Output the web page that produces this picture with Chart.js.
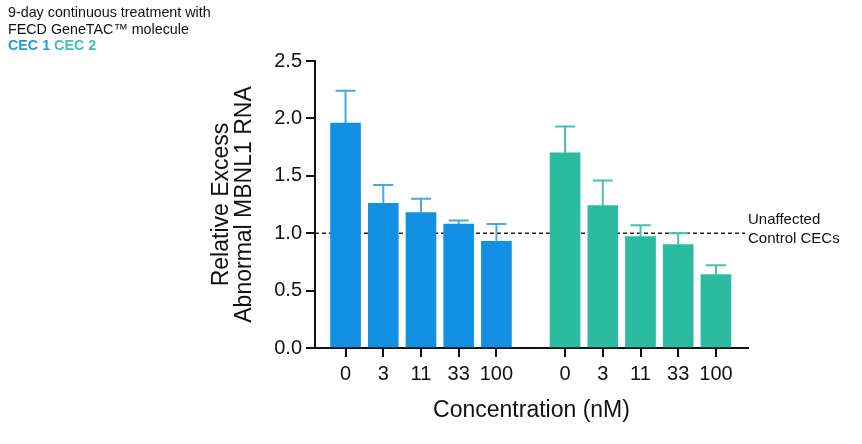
<!DOCTYPE html>
<html><head><meta charset="utf-8">
<script src="https://cdn.jsdelivr.net/npm/chart.js@4.4.0/dist/chart.umd.min.js"></script>
<style>
html,body{margin:0;padding:0;background:#fff;}
#wrap{position:relative;width:862px;height:444px;}
#note{position:absolute;left:8px;top:4px;font-family:"Liberation Sans",Arial,sans-serif;font-size:14.3px;line-height:16.5px;color:#111;}
</style></head><body>
<div id="wrap"><canvas id="c" width="862" height="444"></canvas>
<div id="note">9-day continuous treatment with<br>FECD GeneTAC™ molecule<br><b style="color:#1E9BE3">CEC 1</b> <b style="color:#3CC4AA">CEC 2</b></div></div>
<script>
// ---- data ----
const concentrations = ['0', '3', '11', '33', '100'];
const cec1Values = [1.96, 1.26, 1.18, 1.08, 0.93];
const cec1ErrUpper = [0.28, 0.16, 0.12, 0.03, 0.15];
const cec2Values = [1.70, 1.24, 0.97, 0.90, 0.64];
const cec2ErrUpper = [0.23, 0.22, 0.10, 0.10, 0.08];
const yTicks = [0, 0.5, 1.0, 1.5, 2.0, 2.5];
const referenceLevel = 1.0;
const referenceLabel = ['Unaffected', 'Control CECs'];
const xTitle = 'Concentration (nM)';
const yTitle = ['Relative Excess', 'Abnormal MBNL1 RNA'];

// ---- layout helpers ----
const GROUP_SHIFT = 5.82;
const pos = (g, i) => g * GROUP_SHIFT + i;
const allPositions = [...concentrations.map((_, i) => pos(0, i)), ...concentrations.map((_, i) => pos(1, i))];
const allLabels = [...concentrations, ...concentrations];
const FONT = '"Liberation Sans", Arial, sans-serif';

const datasets = [
  { label: 'CEC 1', data: cec1Values.map((v, i) => ({ x: pos(0, i), y: v })), errUpper: cec1ErrUpper,
    backgroundColor: '#1190E4', errColor: '#4AA6E4' },
  { label: 'CEC 2', data: cec2Values.map((v, i) => ({ x: pos(1, i), y: v })), errUpper: cec2ErrUpper,
    backgroundColor: '#2BBBA1', errColor: '#45C2AA' }
].map(d => Object.assign(d, { grouped: false, barThickness: 30, borderWidth: 0 }));

const errorBars = {
  id: 'errorBars',
  afterDatasetsDraw(chart) {
    const ctx = chart.ctx, y = chart.scales.y;
    chart.data.datasets.forEach((ds, di) => {
      chart.getDatasetMeta(di).data.forEach((bar, i) => {
        const top = y.getPixelForValue(ds.data[i].y + ds.errUpper[i]);
        ctx.save();
        ctx.strokeStyle = ds.errColor; ctx.lineWidth = 2;
        ctx.beginPath();
        ctx.moveTo(bar.x, bar.y); ctx.lineTo(bar.x, top);
        ctx.moveTo(bar.x - 10, top); ctx.lineTo(bar.x + 10, top);
        ctx.stroke(); ctx.restore();
      });
    });
  }
};

const refLine = {
  id: 'refLine',
  beforeDatasetsDraw(chart) {
    const ctx = chart.ctx, a = chart.chartArea, yp = chart.scales.y.getPixelForValue(referenceLevel);
    ctx.save();
    ctx.strokeStyle = '#222'; ctx.lineWidth = 1.5; ctx.setLineDash([4, 3]);
    ctx.beginPath(); ctx.moveTo(a.left, yp); ctx.lineTo(a.right - 3, yp); ctx.stroke();
    ctx.restore();
  },
  afterDraw(chart) {
    const ctx = chart.ctx, a = chart.chartArea, yp = chart.scales.y.getPixelForValue(referenceLevel);
    ctx.save();
    ctx.fillStyle = '#111'; ctx.font = '15px ' + FONT; ctx.textAlign = 'left'; ctx.textBaseline = 'middle';
    ctx.fillText(referenceLabel[0], a.right, yp - 13);
    ctx.fillText(referenceLabel[1], a.right, yp + 6);
    ctx.restore();
  }
};

new Chart(document.getElementById('c'), {
  type: 'bar',
  data: { datasets },
  plugins: [refLine, errorBars],
  options: {
    responsive: false, animation: false,
    layout: { padding: { left: 200, top: 61, right: 114, bottom: 0 } },
    plugins: { legend: { display: false }, tooltip: { enabled: false } },
    scales: {
      x: {
        type: 'linear', min: -0.81, max: 10.67, offset: false,
        afterBuildTicks(scale) { scale.ticks = allPositions.map(v => ({ value: v })); },
        afterFit(scale) { scale.height = 96; },
        ticks: { autoSkip: false, maxRotation: 0, color: '#111', padding: 5,
          font: { family: FONT, size: 20 }, callback: (v, i) => allLabels[i] },
        grid: { display: true, offset: false, drawOnChartArea: false, drawTicks: true, tickLength: 9, color: '#111', lineWidth: 2 },
        border: { display: true, color: '#111', width: 2 },
        title: { display: true, text: xTitle, color: '#111', font: { family: FONT, size: 23, lineHeight: 1.0 },
          padding: { top: 0, bottom: 22 } }
      },
      y: {
        min: 0, max: 2.5,
        afterBuildTicks(scale) { scale.ticks = yTicks.map(v => ({ value: v })); },
        afterFit(scale) { scale.width = 115; },
        ticks: { color: '#111', padding: 4, font: { family: FONT, size: 20 }, callback: v => v.toFixed(1) },
        grid: { display: true, drawOnChartArea: false, drawTicks: true, tickLength: 9, color: '#111', lineWidth: 2 },
        border: { display: true, color: '#111', width: 2 },
        title: { display: true, text: yTitle, color: '#111', font: { family: FONT, size: 23, lineHeight: 1.0 },
          padding: { top: 10, bottom: 0 } }
      }
    }
  }
});
</script>
</body></html>
